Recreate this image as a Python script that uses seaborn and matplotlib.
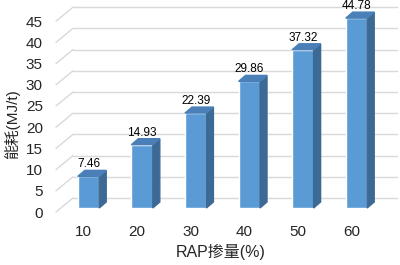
import numpy as np
import matplotlib
matplotlib.use("Agg")
import matplotlib.pyplot as plt
import matplotlib.transforms as mtransforms
from matplotlib.patches import Polygon
import seaborn as sns

# data
rap_content = ["10", "20", "30", "40", "50", "60"]
energy = [7.46, 14.93, 22.39, 29.86, 37.32, 44.78]
y_ticks = [0, 5, 10, 15, 20, 25, 30, 35, 40, 45]

sns.set_style("white")
plt.rcParams['font.family'] = ['Liberation Sans', 'Noto Sans CJK SC']

front_c = "#5b9bd5"
top_c = "#4a80b7"
side_c = "#3d6a94"
grid_c = "#d9d9d9"

fig = plt.figure(figsize=(4, 2.65), dpi=100)
# axes = plane of the bars' front faces (pixel layout of the original)
ax = fig.add_axes([61 / 400, (265 - 208) / 265, 324 / 400, (208 - 17.2) / 265])

sns.barplot(x=rap_content, y=energy, color=front_c, width=0.4,
            saturation=1, ax=ax, zorder=2)
ax.set_xlim(-0.513, 5.532)
ax.set_ylim(0, 45)

# pixel -> data conversion for the fake 3d depth
sx = 324 / (5.532 + 0.513)
sy = (208 - 17.2) / 45
bdx, bdy = 7 / sx, 6 / sy          # bar depth
wdx, wdy = 12 / sx, 10 / sy        # back wall offset
fdx, fdy = -5 / sx, -4 / sy        # front plane offset

x0, x1 = ax.get_xlim()
for v in y_ticks:
    ax.plot([x0 + wdx, x1 + wdx], [v + wdy, v + wdy], color=grid_c, lw=1,
            zorder=0.5, clip_on=False)
    ax.plot([x0 + fdx, x0 + wdx], [v + fdy, v + wdy], color=grid_c, lw=1,
            zorder=0.5, clip_on=False)

for bar in ax.patches[:len(energy)]:
    bx0 = bar.get_x()
    bx1 = bx0 + bar.get_width()
    h = bar.get_height()
    side = Polygon([(bx1, 0), (bx1, h), (bx1 + bdx, h + bdy), (bx1 + bdx, bdy)],
                   closed=True, color=side_c, zorder=2, clip_on=False)
    top = Polygon([(bx0, h), (bx1, h), (bx1 + bdx, h + bdy), (bx0 + bdx, h + bdy)],
                  closed=True, color=top_c, zorder=2, clip_on=False)
    ax.add_patch(side)
    ax.add_patch(top)
    ax.text((bx0 + bx1) / 2, h + bdy, f"{h:.2f}", ha='center',
            va='bottom', fontsize=8.5, color='black', clip_on=False)

for s in ax.spines.values():
    s.set_visible(False)

ax.set_yticks(y_ticks)
ax.set_yticklabels([str(t) for t in y_ticks])
ax.tick_params(axis='y', length=0, pad=13, labelsize=11)
ax.tick_params(axis='x', length=0, pad=12, labelsize=11)
for lab in ax.get_yticklabels():
    lab.set_transform(lab.get_transform() +
                      mtransforms.ScaledTranslation(0, -0.04, fig.dpi_scale_trans))
for lab in ax.get_xticklabels():
    lab.set_transform(lab.get_transform() +
                      mtransforms.ScaledTranslation(-0.05, 0, fig.dpi_scale_trans))

ax.set_ylabel("能耗(MJ/t)", fontsize=11)
ax.yaxis.set_label_coords(-0.125, 0.44)
ax.set_xlabel("RAP掺量(%)", fontsize=11.5)
ax.xaxis.set_label_coords(0.494, -0.189)
ax.xaxis.label.set_va('top')

fig.savefig("out.png", dpi=100)
